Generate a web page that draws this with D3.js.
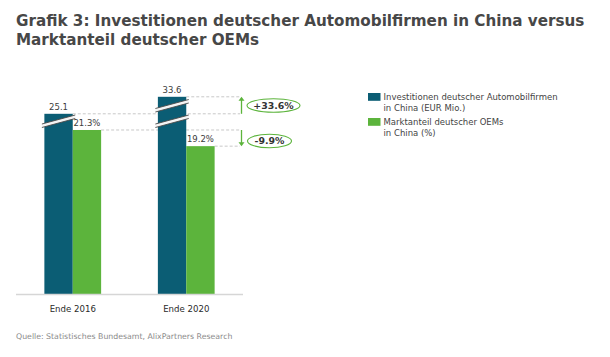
<!DOCTYPE html>
<html><head><meta charset="utf-8">
<script src="https://cdn.jsdelivr.net/npm/d3@7"></script>
<style>
html,body{margin:0;padding:0;background:#fff;}
svg{display:block;font-family:"DejaVu Sans",Verdana,sans-serif;}
</style></head>
<body><div id="chart"></div>
<script>
const titleLines = ["Grafik 3: Investitionen deutscher Automobilfirmen in China versus", "Marktanteil deutscher OEMs"];
const categories = ["Ende 2016", "Ende 2020"];
const investValues = [25.1, 33.6];
const shareValues = [21.3, 19.2];
const investLabels = ["25.1", "33.6"];
const shareLabels = ["21.3%", "19.2%"];
const changeLabels = ["+33.6%", "-9.9%"];
const legendLines = [["Investitionen deutscher Automobilfirmen", "in China (EUR Mio.)"], ["Marktanteil deutscher OEMs", "in China (%)"]];
const sourceText = "Quelle: Statistisches Bundesamt, AlixPartners Research";

const W = 610, H = 357;
const C_DARK = "#0b5d74", C_GREEN = "#5cb43c", C_TEXT = "#3c3c3c";
const svg = d3.select("#chart").append("svg").attr("width", W).attr("height", H);

// title
svg.append("g").selectAll("text").data(titleLines).join("text")
  .attr("x", 16).attr("y", (d, i) => 26 + i * 19)
  .attr("font-size", 15.2).attr("font-weight", "bold").attr("fill", "#474747")
  .text(d => d);

const baseY = 294;
const x0 = d3.scaleBand().domain(categories).range([16, 243]).paddingInner(0.5).paddingOuter(0.25);
const x1 = d3.scaleBand().domain(["inv", "share"]).range([0, x0.bandwidth()]);
// broken axis for investments, regular for share
const yInv = d3.scaleLinear().domain([-65, 40]).range([baseY, baseY - 210]);
const yShare = d3.scaleLinear().domain([0, 30]).range([baseY, baseY - 231]);

const refRight = 240;
const refs = [
  {x: x0(categories[0]) + x1("inv") + x1.bandwidth(), y: yInv(investValues[0])},
  {x: x0(categories[0]) + x1("share") + x1.bandwidth(), y: yShare(shareValues[0])},
  {x: x0(categories[1]) + x1("inv") + x1.bandwidth(), y: yInv(investValues[1])},
  {x: x0(categories[1]) + x1("share") + x1.bandwidth(), y: yShare(shareValues[1])}
];
svg.append("g").selectAll("line").data(refs).join("line")
  .attr("x1", d => d.x).attr("x2", refRight)
  .attr("y1", d => d.y).attr("y2", d => d.y)
  .attr("stroke", "#c8c8c8").attr("stroke-width", 1).attr("stroke-dasharray", "3,2");

// bars
const g = svg.append("g");
categories.forEach((c, i) => {
  g.append("rect").attr("x", x0(c) + x1("inv")).attr("width", x1.bandwidth())
    .attr("y", yInv(investValues[i])).attr("height", baseY - yInv(investValues[i])).attr("fill", C_DARK);
  g.append("rect").attr("x", x0(c) + x1("share")).attr("width", x1.bandwidth())
    .attr("y", yShare(shareValues[i])).attr("height", baseY - yShare(shareValues[i])).attr("fill", C_GREEN);
  g.append("text").attr("x", x0(c) + x1("inv") + x1.bandwidth() / 2).attr("y", yInv(investValues[i]) - 4)
    .attr("text-anchor", "middle").attr("font-size", 8.5).attr("fill", C_TEXT).text(investLabels[i]);
  g.append("text").attr("x", x0(c) + x1("share") + x1.bandwidth() / 2).attr("y", yShare(shareValues[i]) - 4)
    .attr("text-anchor", "middle").attr("font-size", 8.5).attr("fill", C_TEXT).text(shareLabels[i]);
});

// axis break marks
function breakMark(xl, w, yc) {
  const dx = 2.5, dy = 4.5, gap = 3.5;
  const p1 = [xl - dx, yc + dy], p2 = [xl + w + dx, yc - dy];
  svg.append("path")
    .attr("d", `M${p1[0]},${p1[1]}L${p2[0]},${p2[1]}L${p2[0]},${p2[1] + gap}L${p1[0]},${p1[1] + gap}Z`)
    .attr("fill", "#f4f4f4");
  [0, gap].forEach(o => svg.append("line")
    .attr("x1", p1[0]).attr("y1", p1[1] + o).attr("x2", p2[0]).attr("y2", p2[1] + o)
    .attr("stroke", "#4a4a4a").attr("stroke-width", 0.9));
}
breakMark(x0(categories[0]) + x1("inv"), x1.bandwidth(), 119.5);
breakMark(x0(categories[1]) + x1("inv"), x1.bandwidth(), 104);
breakMark(x0(categories[1]) + x1("inv"), x1.bandwidth(), 119.5);

// baseline axis
svg.append("line").attr("x1", 16).attr("x2", 243).attr("y1", baseY + 0.5).attr("y2", baseY + 0.5)
  .attr("stroke", "#d6d6d6").attr("stroke-width", 1.5);
const xAxis = d3.axisBottom(x0).tickSize(0).tickPadding(12);
const ax = svg.append("g").attr("transform", `translate(0,${baseY})`).call(xAxis);
ax.select(".domain").remove();
ax.selectAll("text").attr("font-size", 8.6).attr("fill", "#2a2a2a")
  .attr("font-family", '"DejaVu Sans",Verdana,sans-serif');

// change arrows
const arrowX = 241.5;
const arrows = [
  {y1: refs[0].y, y2: refs[2].y},
  {y1: refs[1].y, y2: refs[3].y}
];
arrows.forEach(a => {
  const dir = a.y2 < a.y1 ? -1 : 1;
  svg.append("line").attr("x1", arrowX).attr("x2", arrowX).attr("y1", a.y1).attr("y2", a.y2 - dir * 3)
    .attr("stroke", C_GREEN).attr("stroke-width", 1.3);
  svg.append("path")
    .attr("d", `M${arrowX - 3},${a.y2 - dir * 4}L${arrowX + 3},${a.y2 - dir * 4}L${arrowX},${a.y2}Z`)
    .attr("fill", C_GREEN);
});

// ellipses with change labels
const ells = [
  {cx: 273.5, cy: 105.5, rx: 26.5, ry: 6.8},
  {cx: 269.5, cy: 141, rx: 22, ry: 6.8}
];
ells.forEach((e, i) => {
  svg.append("ellipse").attr("cx", e.cx).attr("cy", e.cy).attr("rx", e.rx).attr("ry", e.ry)
    .attr("fill", "#fff").attr("stroke", C_GREEN).attr("stroke-width", 1.1);
  svg.append("text").attr("x", e.cx).attr("y", e.cy + 3.4).attr("text-anchor", "middle")
    .attr("font-size", 9.4).attr("font-weight", "bold").attr("fill", "#333").text(changeLabels[i]);
});

// legend
const legColors = [C_DARK, C_GREEN];
const legY = [93, 118];
legendLines.forEach((lines, i) => {
  svg.append("rect").attr("x", 368).attr("y", legY[i]).attr("width", 12.5).attr("height", 7.8).attr("fill", legColors[i]);
  lines.forEach((t, j) => svg.append("text").attr("x", 383.5).attr("y", legY[i] + 6.5 + j * 11.7)
    .attr("font-size", 8.5).attr("fill", "#444").text(t));
});

// source
svg.append("text").attr("x", 16).attr("y", 339).attr("font-size", 7.8).attr("fill", "#8a8a8a").text(sourceText);
</script></body></html>
